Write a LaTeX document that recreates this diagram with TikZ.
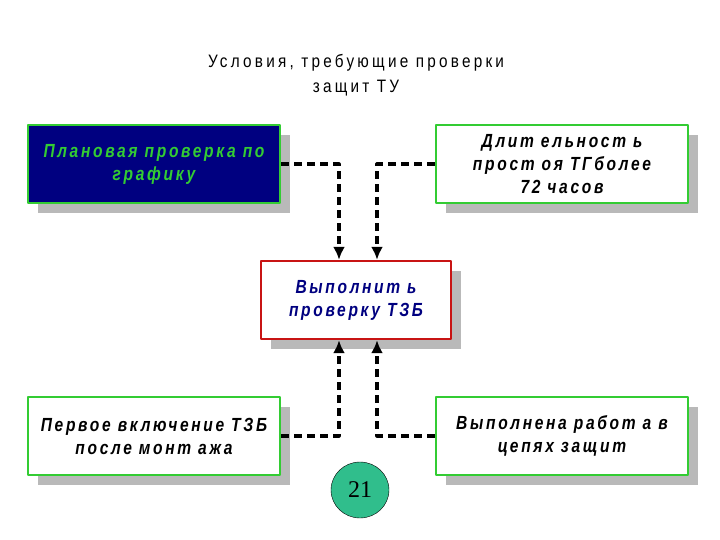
\documentclass[tikz,border=0pt]{standalone}
\usepackage{fontspec}
\setmainfont{Liberation Sans}
\newfontfamily\boxfont[LetterSpace=14, FakeStretch=0.82]{Liberation Sans}
\newfontfamily\titlefont[LetterSpace=18, FakeStretch=0.85]{Liberation Sans}
\newfontfamily\numfont{Liberation Serif}
\usetikzlibrary{shadows, shapes.geometric, arrows.meta}
\definecolor{ramka}{RGB}{51,204,51}
\definecolor{temno}{RGB}{0,0,128}
\definecolor{krug}{RGB}{48,190,140}
\begin{document}
\begin{tikzpicture}[x=1pt, y=-1pt, line join=round, >={Latex[length=13pt, width=12pt]},
	blok/.style={draw=ramka, line width=2.4pt, fill=white, minimum width=252pt, minimum height=78pt,
		align=center, font=\boxfont\bfseries\itshape\fontsize{19}{23}\selectfont,
		drop shadow={shadow xshift=10pt, shadow yshift=-10pt, fill=gray!55, opacity=1}},
	svyaz/.style={line width=3.2pt, dash pattern=on 8pt off 5pt}]
	\useasboundingbox (0,0) rectangle (720,540);
	% Заголовок
	\node[font=\titlefont\fontsize{18}{25}\selectfont, align=center] (zag) at (356,75)
	{Условия, требующие проверки\\ защит ТУ};
	% Блоки
	\node[blok, fill=temno, text=ramka] (plan) at (154,164) {Плановая проверка по\\ графику};
	\node[blok] (dlit) at (562,164) {Длит ельност ь\\ прост оя ТГболее\\ 72 часов};
	\node[blok, draw={rgb,255:red,200;green,20;blue,20}, minimum width=190pt, text=temno] (vyp) at (356,300)
	{Выполнит ь\\ проверку ТЗБ};
	\node[blok] (perv) at (154,436) {Первое включение ТЗБ\\ после монт ажа};
	\node[blok] (rab) at (562,436) {Выполнена работ а в\\ цепях защит};
	% Связи
	\coordinate (vl) at ([xshift=-17pt]vyp.north);
	\coordinate (vr) at ([xshift=21pt]vyp.north);
	\coordinate (nl) at ([xshift=-17pt]vyp.south);
	\coordinate (nr) at ([xshift=21pt]vyp.south);
	\draw[svyaz, ->] (plan.east) -| (vl);
	\draw[svyaz, ->] (dlit.west) -| (vr);
	\draw[svyaz, ->] (perv.east) -| (nl);
	\draw[svyaz, ->] (rab.west) -| (nr);
	% Номер
	\node[draw, fill=krug, ellipse, minimum width=58pt, minimum height=56pt, inner sep=0pt,
	font=\numfont\fontsize{24}{24}\selectfont] (nom) at (360,490) {21};
\end{tikzpicture}
\end{document}
